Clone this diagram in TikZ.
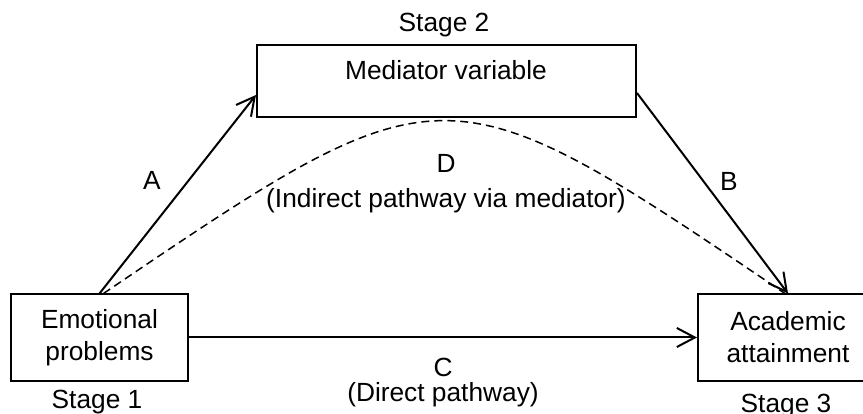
\documentclass[tikz,border=0pt]{standalone}
\usepackage{fontspec}
\setmainfont{Liberation Sans}
\usetikzlibrary{arrows.meta}

\begin{document}
\begin{tikzpicture}[x=1pt,y=-1pt,
  every node/.style={font=\fontsize{26.3}{32}\selectfont},
  box/.style={draw=black,line width=2pt,inner sep=0pt,align=center},
  lbl/.style={inner sep=0pt,anchor=base},
  arr/.style={line width=2pt,-{Straight Barb[length=18pt,width=19pt,line width=2pt]}}]

\useasboundingbox (0,0) rectangle (863,414);

% boxes
\node[box,minimum width=177pt,minimum height=86pt] (emo) at (99.5,337.5) {Emotional\\problems};
\node[box,minimum width=180pt,minimum height=86pt] (aca) at (788,337.5) {Academic\\attainment};
\node[box,minimum width=379pt,minimum height=72pt] (med) at (446.5,81) {};
\node[lbl] (medtxt) at (446,80) {Mediator variable};

% stages
\node[lbl] (st1) at (97,408) {Stage 1};
\node[lbl] (st2) at (444,32) {Stage 2};
\node[lbl] (st3) at (786,412) {Stage 3};

% pathways
\draw[arr] (emo.north) -- ([yshift=-14pt]med.west);
\draw[arr] ([yshift=-12pt]med.east) -- (aca.north);
\draw[arr] (emo.east) -- (aca.west);
\draw[line width=1.5pt,dash pattern=on 8pt off 5pt] ([xshift=4pt]emo.north) .. controls (444,63) .. ([xshift=-3pt]aca.north);

% labels
\node[lbl] (la) at (152,190) {A};
\node[lbl] (lb) at (729,191) {B};
\node[lbl] (ld) at (446,173) {D};
\node[lbl] (ldtxt) at (446,207.5) {(Indirect pathway via mediator)};
\node[lbl] (lc) at (443,377) {C};
\node[lbl] (lctxt) at (443,402) {(Direct pathway)};

\end{tikzpicture}
\end{document}
